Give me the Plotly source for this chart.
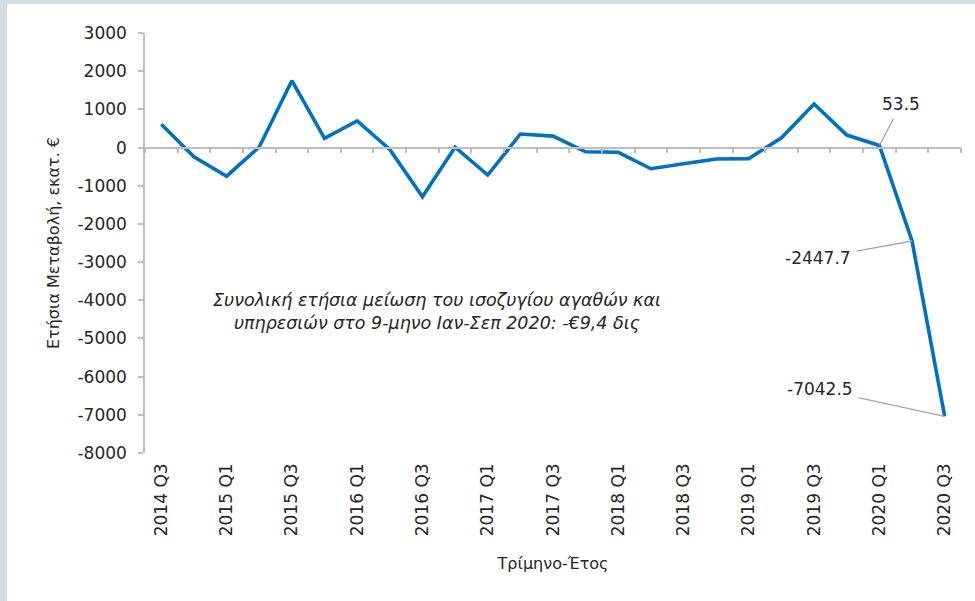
import plotly.graph_objects as go

quarters = ["2014 Q3", "2014 Q4", "2015 Q1", "2015 Q2", "2015 Q3", "2015 Q4",
            "2016 Q1", "2016 Q2", "2016 Q3", "2016 Q4", "2017 Q1", "2017 Q2",
            "2017 Q3", "2017 Q4", "2018 Q1", "2018 Q2", "2018 Q3", "2018 Q4",
            "2019 Q1", "2019 Q2", "2019 Q3", "2019 Q4", "2020 Q1", "2020 Q2",
            "2020 Q3"]
values = [610, -240, -750, 15, 1750, 240, 700, -50, -1290, 10, -720, 355,
          300, -110, -125, -555, -425, -300, -290, 257, 1140, 327, 53.5,
          -2447.7, -7042.5]
y_ticks = [3000, 2000, 1000, 0, -1000, -2000, -3000, -4000, -5000, -6000, -7000, -8000]
y_tick_text = ["3000", "2000", "1000", "0", "-1000", "-2000", "-3000", "-4000",
               "-5000", "-6000", "-7000", "-8000"]
labelled = {"2020 Q1": "53.5", "2020 Q2": "-2447.7", "2020 Q3": "-7042.5"}
tick_labels = [q if i % 2 == 0 else "" for i, q in enumerate(quarters)]

FONT = "DejaVu Sans"
AXIS_COL = "#bdbdbd"
TXT = "#262626"

W, H = 975, 601
ML, MR, MT, MB = 145, 14, 33, 148
PW, PH = W - ML - MR, H - MT - MB
YMIN, YMAX = -8000, 3000

fig = go.Figure()
fig.add_trace(go.Scatter(
    x=quarters, y=values, mode="lines",
    line=dict(color="#0070c0", width=3.6),
    hoverinfo="x+y", showlegend=False,
))
# dummy trace to carry the bottom label axis
fig.add_trace(go.Scatter(
    x=quarters, y=values, xaxis="x2", mode="lines",
    line=dict(width=0), opacity=0, hoverinfo="skip", showlegend=False,
))

fig.update_layout(
    width=W, height=H,
    margin=dict(l=ML, r=MR, t=MT, b=MB),
    paper_bgcolor="white", plot_bgcolor="white",
    font=dict(family=FONT, color=TXT),
    xaxis=dict(
        type="category", categoryorder="array", categoryarray=quarters,
        range=[-0.5, len(quarters) - 0.5],
        anchor="free", position=(0 - YMIN) / (YMAX - YMIN),
        showline=True, linecolor=AXIS_COL, linewidth=1.5,
        ticks="outside", ticklen=5, tickwidth=1.5, tickcolor=AXIS_COL,
        tickson="boundaries", tickmode="array", tickvals=quarters,
        showticklabels=False, showgrid=False, zeroline=False,
    ),
    xaxis2=dict(
        type="category", categoryorder="array", categoryarray=quarters,
        range=[-0.5, len(quarters) - 0.5],
        overlaying="x", anchor="y", side="bottom",
        showline=False, ticks="", showgrid=False, zeroline=False,
        tickmode="array", tickvals=quarters, ticktext=tick_labels,
        tickangle=-90, tickfont=dict(size=17, color=TXT, family=FONT),
        ticklabelstandoff=6,
        title=dict(text="Τρίμηνο-Έτος", font=dict(size=16, color=TXT, family=FONT), standoff=22),
    ),
    yaxis=dict(
        range=[YMIN, YMAX], tickmode="array", tickvals=y_ticks, ticktext=y_tick_text,
        showline=True, linecolor=AXIS_COL, linewidth=1.5,
        ticks="outside", ticklen=5, tickwidth=1.5, tickcolor=AXIS_COL,
        showgrid=False, zeroline=False,
        tickfont=dict(size=17, color=TXT, family=FONT),
        ticklabelstandoff=8,
        title=dict(text="Ετήσια Μεταβολή, εκατ. €", font=dict(size=16, color=TXT, family=FONT), standoff=14),
    ),
    hovermode="closest",
)

# grey frame strips (left and top)
fig.add_shape(type="rect", xref="paper", yref="paper", layer="below",
              x0=-ML / PW, x1=(7 - ML) / PW, y0=-MB / PH, y1=1 + MT / PH,
              fillcolor="#d3dce4", line_width=0)
fig.add_shape(type="rect", xref="paper", yref="paper", layer="below",
              x0=-ML / PW, x1=1 + MR / PW, y0=1 + (MT - 4) / PH, y1=1 + MT / PH,
              fillcolor="#d3dce4", line_width=0)

# italic note
fig.add_annotation(
    xref="paper", yref="paper",
    x=(437 - ML) / PW, y=1 - (311 - MT) / PH,
    text="<i>Συνολική ετήσια μείωση του ισοζυγίου αγαθών και<br>υπηρεσιών στο 9-μηνο Ιαν-Σεπ 2020: -€9,4 δις</i>",
    showarrow=False, font=dict(size=17.5, color=TXT, family=FONT), align="center",
)

# data labels with leader lines
offsets = {"2020 Q1": (22, -42), "2020 Q2": (-94, 17), "2020 Q3": (-125, -27)}
for q, txt in labelled.items():
    i = quarters.index(q)
    ax, ay = offsets[q]
    fig.add_annotation(
        x=q, y=values[i], xref="x", yref="y", text=txt,
        showarrow=True, arrowhead=0, arrowwidth=1.3, arrowcolor="#a6a6a6",
        ax=ax, ay=ay, standoff=0, startstandoff=4,
        font=dict(size=17, color=TXT, family=FONT),
    )

fig.write_html("out.html")
